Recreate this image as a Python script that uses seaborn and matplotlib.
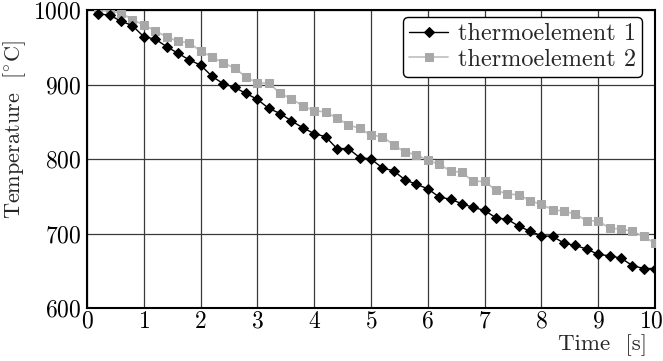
import numpy as np
import pandas as pd
import matplotlib
matplotlib.use('Agg')
import matplotlib.pyplot as plt
import matplotlib.transforms as mtransforms
import seaborn as sns

# --- data (time step 0.2 s) ---
time_s = [round(0.2 * (i + 1), 1) for i in range(50)]
thermo_1 = [995, 993, 985, 979, 964, 961, 951, 942, 933, 926,
            911, 901, 896, 888, 880, 868, 861, 851, 842, 834,
            830, 814, 814, 802, 800, 788, 784, 772, 766, 760,
            749, 746, 740, 735, 731, 721, 719, 710, 703, 697,
            696, 687, 684, 679, 672, 670, 667, 657, 653, 653]
thermo_2 = [1001, 998, 996, 987, 980, 972, 964, 958, 956, 945,
            937, 929, 922, 910, 902, 902, 888, 881, 871, 865,
            863, 855, 846, 841, 832, 830, 819, 809, 806, 798,
            793, 784, 782, 770, 770, 758, 753, 752, 744, 739,
            732, 730, 726, 717, 717, 707, 706, 703, 696, 687]
x_ticks = list(range(0, 11))
y_ticks = [600, 700, 800, 900, 1000]

df = pd.DataFrame({'Time': time_s, 't1': thermo_1, 't2': thermo_2})

# --- style ---
sns.set_style('white')
plt.rcParams['font.family'] = ['cmr10', 'DejaVu Serif']
plt.rcParams['mathtext.fontset'] = 'cm'
plt.rcParams['axes.formatter.use_mathtext'] = True

fig = plt.figure(figsize=(6.63, 3.61), dpi=100)
ax = fig.add_axes([87 / 663, 1 - 308 / 361, 568 / 663, 298 / 361])

sns.lineplot(data=df, x='Time', y='t1', ax=ax, color='black', lw=1.0,
             marker='D', markersize=5.5, markeredgecolor='black',
             label='thermoelement 1', zorder=4)
sns.lineplot(data=df, x='Time', y='t2', ax=ax, color='#bdbdbd', lw=1.2,
             marker='s', markersize=6, markeredgecolor='#a8a8a8',
             markerfacecolor='#a8a8a8', label='thermoelement 2', zorder=3)

ax.set_xlim(0, 10)
ax.set_ylim(600, 1000)
ax.set_xticks(x_ticks)
ax.set_yticks(y_ticks)
ax.grid(True, color='#3a3a3a', lw=0.9)
ax.set_axisbelow(True)
for s in ax.spines.values():
    s.set_color('black')
    s.set_linewidth(1.5)
ax.tick_params(length=0, labelsize=17, colors='black')
ax.tick_params(axis='y', pad=4)
ax.tick_params(axis='x', pad=2)

# nudge the last x label so it stays inside the figure
last = ax.get_xticklabels()[-1]
last.set_transform(last.get_transform() +
                   mtransforms.ScaledTranslation(-4 / 100, 0, fig.dpi_scale_trans))

ax.set_xlabel('Time  [s]', fontsize=16.5)
ax.xaxis.set_label_coords(0.9075, -0.087)
ax.set_ylabel(r'Temperature  [$^{\circ}$C]', fontsize=16)
ax.yaxis.set_label_coords(-0.104, 0.6)

leg = ax.legend(loc='upper right', bbox_to_anchor=(0.977, 0.977), fontsize=17.5,
                frameon=True, fancybox=True, edgecolor='black', framealpha=1,
                handlelength=1.6, handletextpad=0.4, borderpad=0.25,
                labelspacing=0.15, borderaxespad=0)
leg.get_frame().set_linewidth(1.0)

plt.savefig('out.png', dpi=100)
